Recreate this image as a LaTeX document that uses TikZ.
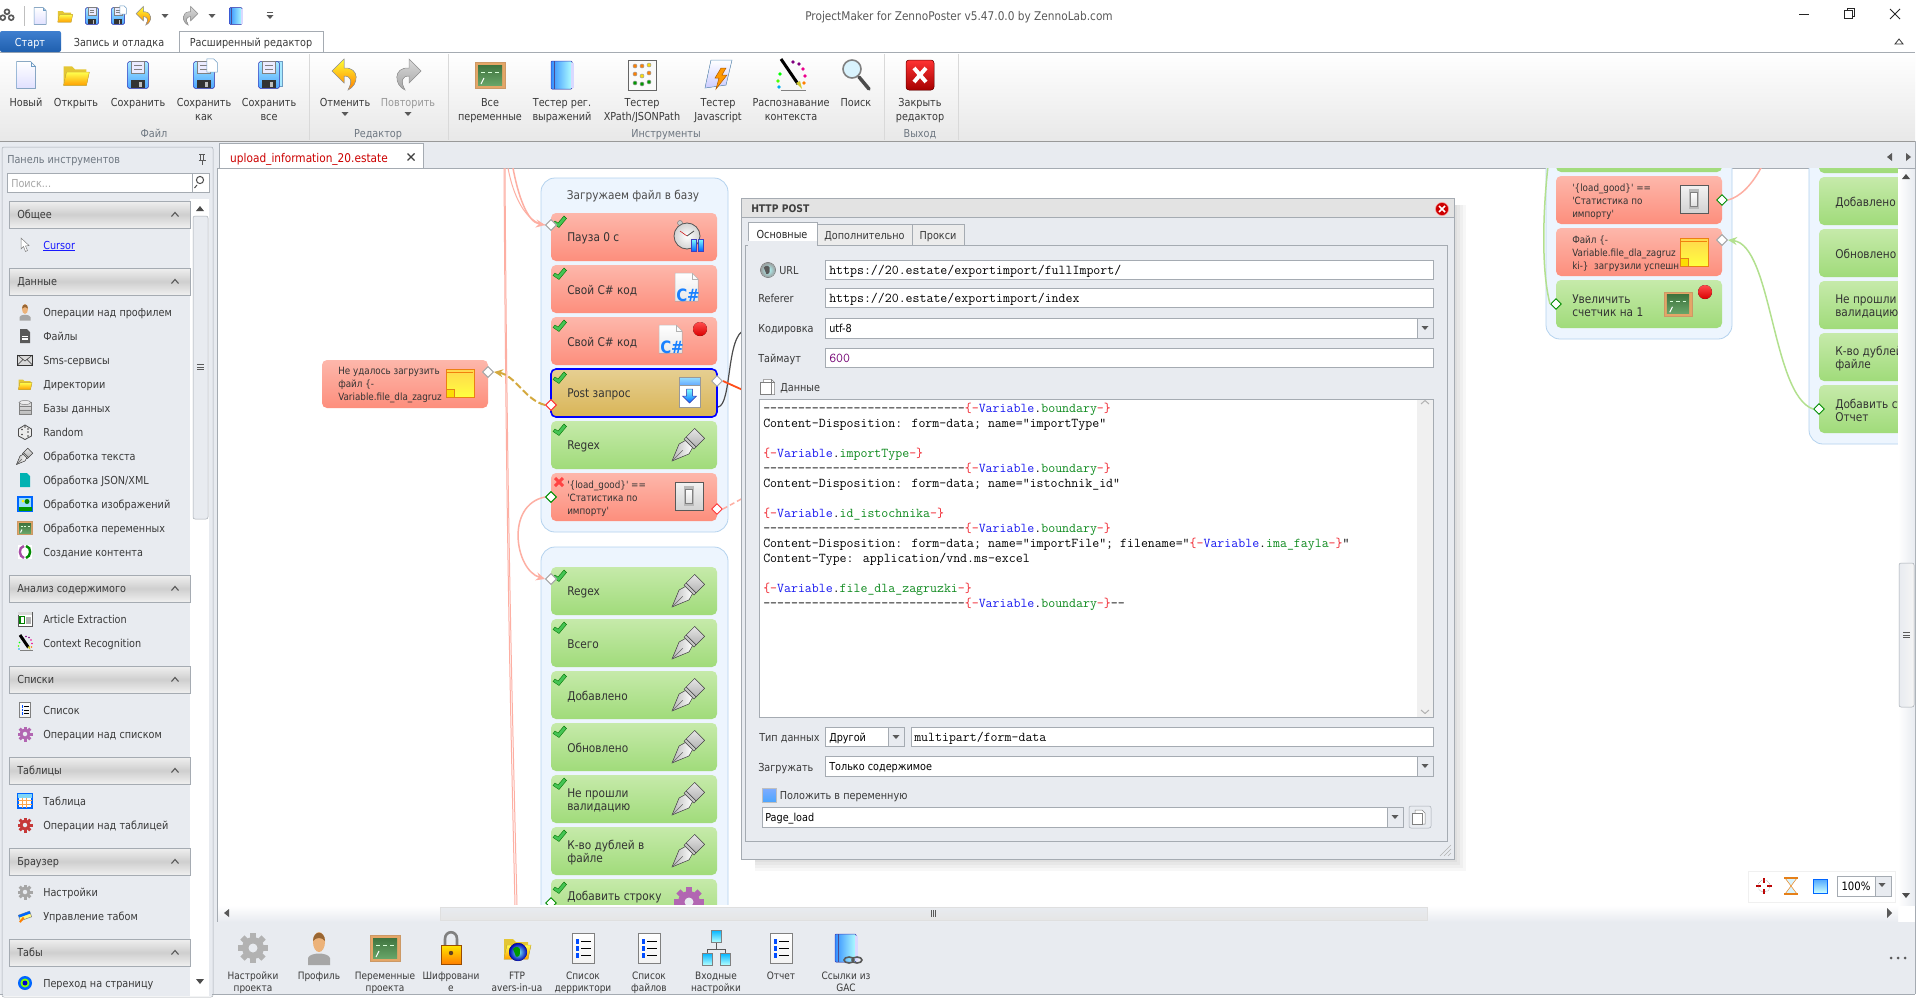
\documentclass[tikz,border=0pt]{standalone}
\usepackage{fontspec}
\usetikzlibrary{arrows.meta,shapes.geometric}
\newfontfamily\ui[FakeStretch=0.88]{DejaVu Sans}
\newfontfamily\uib[FakeStretch=0.88]{DejaVu Sans Bold}
\definecolor{txt}{HTML}{3A3A3A}
\definecolor{glab}{HTML}{6E7781}
\definecolor{panel}{HTML}{E8EBF0}
\definecolor{edge}{HTML}{A5ABB2}
\definecolor{pinkl}{HTML}{FDAFA3}
\definecolor{greenl}{HTML}{B2E08E}
\definecolor{goldl}{HTML}{D4A93E}
\definecolor{vr}{HTML}{F0202A}
\definecolor{vb}{HTML}{1A1AF0}
\definecolor{vg}{HTML}{0E8A1E}
\definecolor{pb}{HTML}{6E9CC4}
\definecolor{startt}{HTML}{3F7FCF}
\definecolor{startb}{HTML}{1F5FAE}
\newcounter{nid}
\newcommand{\lab}[4][]{\stepcounter{nid}\node[lbl,#1] (n\arabic{nid}) at (#2,#3+4) {#4};}
\newcommand{\clab}[4][]{\stepcounter{nid}\node[lbl,anchor=base,#1] (n\arabic{nid}) at (#2,#3+4) {#4};}
\newcommand{\code}[2]{\stepcounter{nid}\node[lbl,font=\ttfamily\fontsize{13.5}{15}\selectfont,text=black] (n\arabic{nid}) at (763,#1+4) {#2};}
\newcommand{\dashes}{-{}-{}-{}-{}-{}-{}-{}-{}-{}-{}-{}-{}-{}-{}-{}-{}-{}-{}-{}-{}-{}-{}-{}-{}-{}-{}-{}-{}-{}}
\newcommand{\Vv}[1]{{\color{vr}\{-}{\color{vb}Variable}.{\color{vg}#1}{\color{vr}-\}}}
\newcommand{\sm}{\fontsize{10}{11.6}\selectfont}
\newcommand{\ico}[4][1]{\begin{scope}[shift={(#2,#3)},scale=#1]#4\end{scope}}
\newcommand{\action}[5]{\node[actbox,#4] (#1) at (#2+83,#3+24) {};\node[acttxt] (#1t) at (#2+16,#3+25.3) {#5};}
\newcommand{\okm}[2]{\fill[fill=HTMLok,draw=green!45!black,line width=.4] (#1-5,#2-1) -- (#1-2,#2+1) -- (#1+4,#2-6) -- (#1+6.5,#2-3.5) -- (#1-1,#2+5.5) -- (#1-7,#2+1.5) -- cycle;}
\definecolor{HTMLok}{HTML}{45C454}
\newcommand{\badm}[2]{\draw[line width=3,color=red!65!pink] (#1-4,#2-4) -- (#1+4,#2+4) (#1+4,#2-4) -- (#1-4,#2+4);}
% icons
\newcommand{\icpage}{\fill[top color=white,bottom color=blue!12,draw=pb] (-10,-14) -- (5,-14) -- (10,-9) -- (10,14) -- (-10,14) -- cycle;\draw[pb] (5,-14) -- (5,-9) -- (10,-9);}
\newcommand{\icfolder}{\fill[color=yellow!55!brown] (-13,-9) -- (-4,-9) -- (-1,-6) -- (11,-6) -- (11,11) -- (-13,11) -- cycle;\fill[top color=yellow!70!white,bottom color=orange!75!yellow,draw=yellow!45!brown] (-10,-3) -- (14,-3) -- (11,11) -- (-13,11) -- cycle;}
\newcommand{\icsave}{\fill[rounded corners=1.5,top color=blue!25!cyan!35,bottom color=blue!50!cyan!70,draw=blue!50!gray] (-11,-14) rectangle (11,14);\fill[color=white!92!blue,draw=gray] (-7,-14) rectangle (7,-2);\draw[gray] (-4,-10) -- (4,-10) (-4,-6) -- (4,-6);\fill[color=black!80] (-7,5) rectangle (7,14);\fill[color=gray!50] (1,7) rectangle (4,13);}
\newcommand{\icsaveas}{\icsave\fill[color=white,draw=pb] (3,-17) -- (10,-17) -- (14,-13) -- (14,-3) -- (3,-3) -- cycle;}
\newcommand{\icsaveall}{\fill[color=blue!25!cyan!35,draw=pb] (-7,-15) rectangle (14,12);\icsave}
\newcommand{\icundo}[2]{\fill[top color=#1,bottom color=#2,draw=black!40] (-1,-16) -- (-13,-4) -- (-1,8) -- (-1,1) .. controls (6,1) and (8,6) .. (3,15) .. controls (14,10) and (15,-8) .. (-1,-7) -- cycle;}
\newcommand{\icbook}{\fill[left color=blue!55!cyan!80,right color=cyan!30,rounded corners=1,draw=blue!50!gray] (-11,-14) rectangle (10,14);\fill[color=white!85!blue] (9,-12) rectangle (12,13);\draw[blue!40!black!70] (-8,-14) -- (-8,14);}
\newcommand{\icboard}{\fill[color=brown!60!orange!70,draw=brown!80] (-15,-13) rectangle (15,13);\fill[top color=green!30!gray!70!black,bottom color=green!25!gray!95] (-12,-10) rectangle (12,10);\draw[white!85!green,line width=.8] (-9,-3) -- (-5,-3) (-2,-3) -- (2,-3) (5,-3) -- (9,-3);\draw[white,line width=1] (-9,9) -- (-6,3);}
\newcommand{\icxpath}{\fill[color=white!96!gray,draw=gray!80!black] (-14,-15) rectangle (14,15);\foreach \a/\b/\c in {-7/-9/orange,0/-9/orange,7/-10/yellow!80!orange,-7/-1/orange,7/-2/orange,0/1/yellow!80!orange,-7/8/green!60!black,0/9/green!60!black,7/7/green!60!black}{\fill[color=\c,draw=black!40] (\a,\b) circle (2);}}
\newcommand{\icjs}{\fill[top color=white,bottom color=blue!20,draw=pb] (-7,-15) -- (14,-15) -- (8,10) -- (-13,13) -- cycle;\fill[color=orange!80!yellow,draw=orange!70!black] (3,-7) -- (-3,3) -- (1,3) -- (-2,14) -- (9,0) -- (4,0) -- (8,-7) -- cycle;}
\newcommand{\iccontext}{\foreach \a/\b/\c in {2/-13/violet,8/-11/violet,12/-6/magenta,14/1/magenta,-11/-1/green,-13/6/green!70!yellow,-12/12/cyan,13/8/orange}{\fill[color=\c] (\a,\b) circle (1.9);}\draw[black,line width=3] (-10,-16) -- (7,9);\fill[color=yellow!80!black] (5,8) -- (9,6) -- (11,14) -- cycle;\draw[gray,line width=.8] (-10,15) -- (15,15);}
\newcommand{\icsearch}{\draw[black!70,line width=3.5,line cap=round] (3,3) -- (13,15);\fill[color=cyan!15,draw=gray,line width=1.6] (-4,-5) circle (9);}
\newcommand{\icclose}{\fill[rounded corners=3,top color=red!80!white,bottom color=red!65!black,draw=red!45!black] (-14,-15) rectangle (14,15);\draw[white,line width=4] (-6,-7) -- (6,7) (6,-7) -- (-6,7);}
\newcommand{\icgear}[1]{\foreach \a in {0,45,...,315}{\fill[color=#1,rotate=\a] (-3,-15) rectangle (3,-9);}\fill[color=#1] (0,0) circle (11);\fill[color=panel] (0,0) circle (4.5);}
\newcommand{\icperson}{\fill[color=gray!70] (-11,17) -- (-11,10) .. controls (-9,4) and (9,4) .. (11,10) -- (11,17) -- cycle;\fill[color=orange!50!brown!60!white] (0,-6) ellipse (6 and 10);\fill[color=brown!80!black] (-6,-7) .. controls (-6,-18) and (6,-18) .. (6,-7) .. controls (3,-11) and (-3,-11) .. (-6,-7) -- cycle;}
\newcommand{\iclock}{\draw[gray,line width=2.6] (-6,-3) -- (-6,-9) .. controls (-6,-18) and (6,-18) .. (6,-9) -- (6,-3);\fill[top color=yellow!80!orange,bottom color=orange,draw=orange!60!black] (-10,-3) rectangle (10,16);\fill[color=brown!50!black] (0,5) circle (2.2);}
\newcommand{\icglobe}{\fill[inner color=cyan!30,outer color=gray!80] (0,0) circle (9);\fill[color=gray!70!black] (-5,-3) .. controls (-2,-7) and (3,-5) .. (2,0) .. controls (3,5) and (-3,7) .. (-3,2) -- cycle;}
\newcommand{\icglobec}{\fill[inner color=cyan!50,outer color=blue!70!black] (0,0) circle (9);\fill[color=green!60!black] (-5,-3) .. controls (-2,-7) and (3,-5) .. (2,0) .. controls (3,5) and (-3,7) .. (-3,2) -- cycle;}
\newcommand{\iclist}{\fill[top color=white,bottom color=gray!10,draw=gray] (-11,-15) rectangle (11,15);\foreach \v in {-7,0,7}{\draw[black,line width=1] (-2,\v) -- (8,\v);\fill[color=blue!70!cyan] (-7,\v-2.5) rectangle (-4,\v+2.5);}}
\newcommand{\icnet}{\draw[gray!70!black] (0,-6) -- (0,1) (-9,5) -- (-9,1) -- (9,1) -- (9,5);\foreach \a/\b in {0/-12,-9/11,9/11}{\fill[top color=cyan!70!blue,bottom color=cyan!30,draw=gray] (\a-5,\b-6) rectangle (\a+5,\b+6);}}
\newcommand{\icgac}{\icbook\draw[gray!70!black,line width=1.6] (3,12) ellipse (5 and 3) (11,12) ellipse (5 and 3);}
\newcommand{\icnib}{\begin{scope}[rotate=45]\fill[left color=gray!55,right color=white,draw=gray!60!black] (-24,0) -- (-7,-7) -- (0,-5) -- (0,5) -- (-7,7) -- cycle;\draw[black!60] (-24,0) -- (-9,0);\fill[color=gray!45,draw=gray!60!black] (0,-7) rectangle (3,7);\fill[top color=gray!20,bottom color=gray!60,draw=gray!60!black] (3,-7) rectangle (15,7);\end{scope}}
\newcommand{\icclock}{\fill[color=gray!40,draw=gray] (-9,-14) circle (2.5);\fill[color=gray!30,draw=gray] (-2,-14) rectangle (1,-11);\fill[inner color=white,outer color=gray!35,draw=gray!70!black,line width=.8] (-2,-1) circle (13);\draw[red!80!black] (-2,-1) -- (-9,-6);\draw[black!70,line width=.8] (-2,-1) -- (5,-6);\fill[top color=cyan!50,bottom color=blue!60!cyan,draw=blue!50!gray] (2,2) rectangle (7,14) (9,2) rectangle (14,14);}
\newcommand{\icsharp}{\fill[top color=white,bottom color=gray!18,draw=gray!50] (-13,-16) -- (4,-16) -- (10,-10) -- (10,12) -- (-13,12) -- cycle;\draw[gray!60] (4,-16) -- (4,-10) -- (10,-10);\stepcounter{nid}\node[lbl,anchor=center,font=\uib\fontsize{17}{17}\selectfont,text=blue!55!cyan!90] (n\arabic{nid}) at (0,6) {C\#};}
\newcommand{\icpost}{\fill[color=white,draw=gray!80] (-10.5,-15) rectangle (10.5,15);\fill[top color=blue!30!cyan!40,bottom color=blue!55!cyan!60,draw=gray!80] (-10.5,-15) rectangle (10.5,-7);\fill[top color=cyan!50,bottom color=blue!60!cyan,draw=blue!50!gray] (-3,-3) -- (3,-3) -- (3,4) -- (7,4) -- (0,11) -- (-7,4) -- (-3,4) -- cycle;}
\newcommand{\icnote}{\fill[top color=yellow!55!orange!70,bottom color=yellow!75!white,draw=orange!70!brown] (-14,-14) rectangle (14,14);\draw[orange!80!brown,line width=.8] (-13,-11) -- (13,-11);\fill[color=yellow!80!orange,draw=orange!60!brown] (-14,6) -- (-6,6) -- (-6,14) -- (-14,14) -- cycle;\draw[orange!60!brown] (-6,14) -- (-2,14);}
\newcommand{\icswitch}{\fill[top color=gray!10,bottom color=gray!35,draw=gray!70!black,line width=.8] (-14,-14) rectangle (14,14);\fill[color=gray!55] (-5,-10) rectangle (5,10);\fill[top color=white,bottom color=gray!25,draw=gray] (-3.5,-7) rectangle (3.5,7);}
\newcommand{\icdot}{\fill[top color=red!70!white,bottom color=red!85!black] (0,0) circle (7);}
\newcommand{\icmail}{\fill[color=gray!30,draw=black!80,line width=.8] (-15,-10) rectangle (15,10);\draw[black!80] (-15,-10) -- (0,2) -- (15,-10) (-15,10) -- (-4,-1) (15,10) -- (4,-1);}
\newcommand{\icdoc}[1]{\fill[color=#1] (-10,-14) -- (4,-14) -- (10,-8) -- (10,14) -- (-10,14) -- cycle;}
\newcommand{\icfile}{\icdoc{gray!70!black}\draw[white,line width=1.2] (-6,1) -- (6,1) (-6,6) -- (6,6);}
\newcommand{\icdb}{\fill[top color=gray!20,bottom color=gray!55,draw=gray] (-12,-11) rectangle (12,13);\draw[gray] (-12,-3) -- (12,-3) (-12,5) -- (12,5);\fill[color=gray!15,draw=gray] (0,-11) ellipse (12 and 4);}
\newcommand{\icdice}{\fill[color=gray!15,draw=black!70,line width=.8] (0,-14) -- (13,-6) -- (13,8) -- (0,15) -- (-13,8) -- (-13,-6) -- cycle;\foreach \a/\b in {-6/-5,-6/5,6/0,6/8,6/-6,0/-10}{\fill[color=black!75] (\a,\b) circle (1.8);}}
\newcommand{\icimage}{\fill[color=cyan!40,draw=blue!60!cyan,line width=1.2] (-14,-14) rectangle (14,14);\fill[color=yellow] (-4,-6) circle (3);\fill[color=green!60!black] (-13,13) rectangle (13,5);\fill[color=green!50!black] (4,-5) circle (5);}
\newcommand{\iccontent}{\fill[color=white] (-14,-14) rectangle (14,14);\draw[violet!70,line width=2.4] (-2,-12) .. controls (-14,-10) and (-12,10) .. (-2,12);\draw[green!55!black,line width=2.4] (2,-12) .. controls (14,-10) and (12,10) .. (2,12);}
\newcommand{\icarticle}{\fill[color=white,draw=gray!70!black] (-14,-14) rectangle (14,14);\fill[color=gray!30] (-14,-14) rectangle (14,-8);\draw[green!50!black,line width=1.4] (-10,-5) rectangle (-1,9);\fill[color=gray!60] (2,-5) rectangle (11,9);}
\newcommand{\ictable}{\fill[color=white,draw=blue!60!cyan,line width=1.2] (-14,-14) rectangle (14,14);\fill[color=cyan!50] (-14,-14) rectangle (14,-7);\draw[orange!70] (-6,-7) -- (-6,14) (3,-7) -- (3,14) (-14,-1) -- (14,-1) (-14,6) -- (14,6);}
\newcommand{\iccursor}{\fill[color=white,draw=gray] (-8,-14) -- (-8,8) -- (-3,3) -- (1,13) -- (5,11) -- (1,2) -- (8,1) -- cycle;}
\newcommand{\ictab}{\fill[color=yellow!50,draw=gray,rotate=20] (-12,-6) rectangle (12,6);\fill[color=blue!60!cyan,rotate=20] (-12,-6) rectangle (12,-1);\fill[color=orange,rotate=-40] (-2,4) rectangle (2,16);}
\newcommand{\icgoto}{\fill[color=blue!60!cyan] (0,0) circle (14);\fill[color=green!50!yellow] (0,0) circle (9);\fill[color=blue!80!black] (0,0) circle (5);}
\newcommand{\ichdr}[3]{\node[hdrbox] (#1) at (99.5,#2) {};\stepcounter{nid}\node[lbl,font=\ui\fontsize{11}{13}\selectfont] (n\arabic{nid}) at (17,#2+4) {#3};\draw[gray!70!black,line width=1.1] (171.5,#2+2) -- (175,#2-2) -- (178.5,#2+2);}
\newcommand{\sideitem}[3]{\ico[0.5]{25}{#1}{#2}\lab{43}{#1}{#3}}
\newcommand{\ribbon}[3]{\clab{#1}{102}{#2}\clab{#1}{116}{#3}}
\newcommand{\btm}[3]{\clab[font=\ui\fontsize{10.2}{12}\selectfont]{#1}{975}{#2}\clab[font=\ui\fontsize{10.2}{12}\selectfont]{#1}{987}{#3}}
\newcommand{\ddarrow}[2]{\fill[gray!70!black] (#1-3.5,#2-2) -- (#1+3.5,#2-2) -- (#1,#2+2) -- cycle;}
\definecolor{pinkt}{HTML}{FDB7AB}
\definecolor{pinkb}{HTML}{FD8E7C}
\definecolor{greent}{HTML}{C6EAAA}
\definecolor{greenb}{HTML}{A0DB7A}
\definecolor{goldt}{HTML}{E6CF92}
\definecolor{goldb}{HTML}{D9B557}
\definecolor{grpf}{HTML}{EDF5FE}
\definecolor{grpd}{HTML}{B4D2EE}
\tikzset{
 lbl/.style={anchor=base west,inner sep=0pt,text=txt,font=\ui\fontsize{11}{13}\selectfont},
 actbox/.style={minimum width=166pt,minimum height=48pt,rounded corners=5pt,inner sep=0pt},
 redg/.style={top color=pinkt,bottom color=pinkb},
 greeng/.style={top color=greent,bottom color=greenb},
 goldg/.style={top color=goldt,bottom color=goldb},
 acttxt/.style={anchor=west,align=left,inner sep=0pt,text=black!80,font=\ui\fontsize{12}{13}\selectfont},
 grpbox/.style={rounded corners=14pt,fill=grpf,draw=grpd,line width=.8pt,inner sep=0pt},
 port/.style={shape=diamond,minimum size=11pt,inner sep=0pt,fill=white,draw=#1,line width=.9pt},
 hdrbox/.style={minimum width=181pt,minimum height=27pt,inner sep=0pt,draw=edge,line width=.8pt,top color=gray!12,bottom color=gray!12,middle color=gray!38},
 field/.style={fill=white,draw=edge,line width=.8pt},
 tabbtn/.style={draw=edge,line width=.8pt},
 conn/.style={line width=1.5pt,color=pinkl},
 arr/.style={-{Stealth[length=9pt,width=8pt]}}
}
\begin{document}
\begin{tikzpicture}[x=1pt,y=-1pt,line width=.5pt]
\useasboundingbox (0,0) rectangle (1920,999);
\fill[white] (0,0) rectangle (1920,999);
% window body
\fill[panel] (0,141) rectangle (1915,994);
\draw[edge,line width=1] (0,994) -- (1915,994) (1915,141) -- (1915,994);
% ribbon
\fill[top color=white,bottom color=gray!18] (0,52) rectangle (1915,141);
\draw[edge] (0,52) -- (179,52) (323,52) -- (1915,52);
\draw[gray!80,line width=1] (0,141) -- (1915,141);
\foreach \xs in {309,448,884,958}{\draw[gray!30] (\xs,54) -- (\xs,140);}
% quick access bar
\draw[gray!50] (24,6) -- (24,26);
\ico[0.42]{7}{16}{\fill[color=gray!70!black] (-10,4) circle (8) (10,4) circle (8) (0,-10) circle (8);\fill[white] (-10,4) circle (4) (10,4) circle (4) (0,-10) circle (4);}
\ico[0.6]{40}{16}{\icpage}
\ico[0.55]{65}{16}{\icfolder}
\ico[0.6]{92}{16}{\icsave}
\ico[0.6]{118}{16}{\icsaveas}
\ico[0.6]{144}{16}{\icundo{yellow!80!white}{orange}}
\ddarrow{165}{16}
\ico[0.6]{190}{16}{\begin{scope}[xscale=-1]\icundo{gray!30}{gray!70}\end{scope}}
\ddarrow{212}{16}
\ico[0.6]{236}{16}{\icbook}
\ddarrow{270}{17}
\draw[gray!70!black] (267,12) -- (273,12);
\clab[font=\ui\fontsize{12}{13}\selectfont,text=black!65]{959}{16}{ProjectMaker for ZennoPoster v5.47.0.0 by ZennoLab.com}
\draw[black!85,line width=1] (1799,14) -- (1809,14);
\draw[black!85,line width=1] (1844.5,10) rectangle (1852.5,18) (1847,10) -- (1847,8) -- (1854,8) -- (1854,16) -- (1852.5,16);
\draw[black!85,line width=1] (1890,9) -- (1900,19) (1900,9) -- (1890,19);
\draw[black!80,line width=.8] (1895,44) -- (1899,39) -- (1903,44) -- cycle;
% application tabs
\node[minimum width=61pt,minimum height=21pt,inner sep=0pt,top color=startt,bottom color=startb,rounded corners=2pt] (tabStart) at (30.5,41.5) {};
\clab[text=white]{30}{42}{Старт}
\clab{119}{42}{Запись и отладка}
\node[minimum width=144pt,minimum height=21pt,inner sep=0pt,fill=white,draw=edge] (tabExt) at (251,41.5) {};
\clab{251}{42}{Расширенный редактор}
% ribbon icons
\ico[0.95]{26}{75}{\icpage}
\ico[0.95]{76}{75}{\icfolder}
\ico[0.95]{138}{75}{\icsave}
\ico[0.95]{204}{75}{\icsaveas}
\ico[0.95]{269}{75}{\icsaveall}
\ico[1]{345}{75}{\icundo{yellow!80!white}{orange}}
\ico[1]{408}{75}{\begin{scope}[xscale=-1]\icundo{gray!30}{gray!70}\end{scope}}
\ico[1]{490}{75}{\icboard}
\ico[1]{562}{75}{\icbook}
\ico[1]{642}{75}{\icxpath}
\ico[1]{718}{75}{\icjs}
\ico[1]{791}{75}{\iccontext}
\ico[1]{856}{74}{\icsearch}
\ico[1]{920}{75}{\icclose}
\clab{26}{102}{Новый}\clab{76}{102}{Открыть}\clab{138}{102}{Сохранить}
\ribbon{204}{Сохранить}{как}\ribbon{269}{Сохранить}{все}
\clab{345}{102}{Отменить}\ddarrow{345}{114}
\clab[text=gray!80]{408}{102}{Повторить}\ddarrow{408}{114}
\ribbon{490}{Все}{переменные}\ribbon{562}{Тестер рег.}{выражений}\ribbon{642}{Тестер}{XPath/JSONPath}
\ribbon{718}{Тестер}{Javascript}\ribbon{791}{Распознавание}{контекста}\clab{856}{102}{Поиск}\ribbon{920}{Закрыть}{редактор}
\clab[text=glab]{154}{133}{Файл}\clab[text=glab]{378}{133}{Редактор}\clab[text=glab]{666}{133}{Инструменты}\clab[text=glab]{920}{133}{Выход}
% document tab
\node[minimum width=204pt,minimum height=25pt,inner sep=0pt,fill=white,draw=edge] (docTab) at (321,155.5) {};
\clab[text=red!80!black,font=\ui\fontsize{12}{13}\selectfont]{309}{158}{upload\_information\_20.estate}
\draw[black!75,line width=1.4] (407.5,153.5) -- (414.5,160.5) (414.5,153.5) -- (407.5,160.5);
\fill[gray!70!black] (1892,153) -- (1892,161) -- (1887,157) -- cycle (1906,153) -- (1906,161) -- (1911,157) -- cycle;
% left panel
\draw[edge,rounded corners=2] (2,147) rectangle (213,997);
\fill[panel] (3,148) rectangle (212,996);
\lab[text=glab]{7}{159}{Панель инструментов}
\draw[black!65,line width=.9] (199,154) -- (205,154) (200.5,154) rectangle (203.5,160) (202,160) -- (202,165) (198.5,160) -- (205.5,160);
\node[minimum width=202pt,minimum height=19pt,inner sep=0pt,field] (searchBox) at (108,182.5) {};
\lab[text=gray!70]{11}{183}{Поиск...}
\draw[edge] (192,173) -- (192,192);
\draw[gray!60!black,line width=1] (200,180) circle (3.6) (197,185) -- (194.5,188);
\fill[white] (190,199) rectangle (209,996);
\fill[gray!60!black] (196,211) -- (204,211) -- (200,206) -- cycle (196,979) -- (204,979) -- (200,984) -- cycle;
\node[minimum width=15pt,minimum height=303pt,inner sep=0pt,fill=panel,draw=edge,rounded corners=2pt] (sideThumb) at (200.5,367.5) {};
\draw[gray!70!black] (197,364.5) -- (204,364.5) (197,367) -- (204,367) (197,369.5) -- (204,369.5);
\fill[panel] (3,199) rectangle (190,996);
\ichdr{hA}{214.5}{Общее}
\ico[0.5]{25}{245}{\iccursor}
\lab[text=blue!90!white]{43}{245}{\underline{Cursor}}
\ichdr{hB}{281.5}{Данные}
\sideitem{312}{\icperson}{Операции над профилем}
\sideitem{336}{\icfile}{Файлы}
\sideitem{360}{\icmail}{Sms-сервисы}
\sideitem{384}{\icfolder}{Директории}
\sideitem{408}{\icdb}{Базы данных}
\sideitem{432}{\icdice}{Random}
\sideitem{456}{\icnib}{Обработка текста}
\sideitem{480}{\icdoc{teal!60!cyan}}{Обработка JSON/XML}
\sideitem{504}{\icimage}{Обработка изображений}
\sideitem{528}{\icboard}{Обработка переменных}
\sideitem{552}{\iccontent}{Создание контента}
\ichdr{hC}{588.5}{Анализ содержимого}
\sideitem{619}{\icarticle}{Article Extraction}
\sideitem{643}{\iccontext}{Context Recognition}
\ichdr{hD}{679.5}{Списки}
\sideitem{710}{\iclist}{Список}
\sideitem{734}{\icgear{violet!60}}{Операции над списком}
\ichdr{hE}{770.5}{Таблицы}
\sideitem{801}{\ictable}{Таблица}
\sideitem{825}{\icgear{red!55!gray}}{Операции над таблицей}
\ichdr{hF}{861.5}{Браузер}
\sideitem{892}{\icgear{gray!70}}{Настройки}
\sideitem{916}{\ictab}{Управление табом}
\ichdr{hG}{952.5}{Табы}
\sideitem{983}{\icgoto}{Переход на страницу}
% canvas
\fill[white] (218,168) rectangle (1915,922);
\draw[edge] (218,168) -- (1915,168) (217.5,168) -- (217.5,922);
\begin{scope}
\clip (218,168.5) rectangle (1898,905);
\node[grpbox,minimum width=187pt,minimum height=354pt] (g1) at (634.5,355) {};
\node[grpbox,minimum width=187pt,minimum height=420pt] (g2) at (634.5,757) {};
\node[grpbox,minimum width=186pt,minimum height=239pt] (g3) at (1639,219.5) {};
\node[grpbox,minimum width=190pt,minimum height=344pt] (g4) at (1904,272) {};
\action{a1}{551}{213}{redg}{Пауза 0 с}
\action{a2}{551}{265}{redg}{Свой C\# код}
\action{a3}{551}{317}{redg}{Свой C\# код}
\action{a4}{551}{369}{goldg,draw=blue,line width=1.6pt}{Post запрос}
\action{a5}{551}{421}{greeng}{Regex}
\action{a6}{551}{473}{redg}{\sm'\{load\_good\}' ==\\\sm'Статистика по\\\sm импорту'}
\action{note}{322}{360}{redg}{\sm Не удалось загрузить\\\sm файл \{-\\\sm Variable.file\_dla\_zagruz}
\action{b1}{551}{567}{greeng}{Regex}
\action{b2}{551}{619}{greeng}{Всего}
\action{b3}{551}{671}{greeng}{Добавлено}
\action{b4}{551}{723}{greeng}{Обновлено}
\action{b5}{551}{775}{greeng}{Не прошли\\валидацию}
\action{b6}{551}{827}{greeng}{К-во дублей в\\файле}
\node[actbox,greeng] (b7) at (634,903) {};
\node[acttxt] (b7t) at (567,897) {Добавить строку};
\node[actbox,greeng] (c0) at (1639,148) {};
\action{c1}{1556}{176}{redg}{\sm'\{load\_good\}' ==\\\sm'Статистика по\\\sm импорту'}
\action{c2}{1556}{228}{redg}{\sm Файл \{-\\\sm Variable.file\_dla\_zagruz\\\sm ki-\}\ \ загрузили успешн}
\action{c3}{1556}{280}{greeng}{Увеличить\\счетчик на 1}
\node[actbox,greeng] (e0) at (1902,149) {};
\action{e1}{1819}{177}{greeng}{Добавлено}
\action{e2}{1819}{229}{greeng}{Обновлено}
\action{e3}{1819}{281}{greeng}{Не прошли\\валидацию}
\action{e4}{1819}{333}{greeng}{К-во дублей\\файле}
\action{e5}{1819}{385}{greeng}{Добавить ст\\Отчет}
\stepcounter{nid}
\node[lbl,anchor=base,text=black!70,font=\ui\fontsize{12}{13}\selectfont] (n\arabic{nid}) at (633,199) {Загружаем файл в базу};
% icons on actions
\ico{689}{237}{\icclock}
\ico{688}{289}{\icsharp}
\ico{672}{341}{\icsharp}
\ico{700}{329}{\icdot}
\ico{689.5}{392}{\icpost}
\ico{689}{444}{\icnib}
\ico{689}{496}{\icswitch}
\ico{460}{383}{\icnote}
\foreach \yy in {590,642,694,746,798,850}{\ico{689}{\yy}{\icnib}}
\ico{689}{902}{\icgear{violet!60}}
\ico{1694}{199}{\icswitch}
\ico{1694}{252}{\icnote}
\ico[.92]{1678}{304}{\icboard}
\ico{1705}{292}{\icdot}
% check marks
\foreach \yy in {222,274,326,378,430,576,628,680,732,784,836,888}{\okm{560}{\yy}}
\badm{559}{482}
% ports
\node[port=gray!70] (pPause) at (551,225) {};
\node[port=gray!70] (pPost) at (717,381) {};
\node[port=red!80] (pErr) at (551,405) {};
\node[port=gray!70] (pNote) at (488,372) {};
\node[port=green!55!black] (pIf) at (551,497) {};
\node[port=red!80] (pIfE) at (717,509) {};
\node[port=gray!70] (pRgx) at (551,579) {};
\node[port=green!55!black] (pAdd) at (551,903) {};
\node[port=green!55!black] (pR1) at (1722,200) {};
\node[port=gray!70] (pR2) at (1722,240) {};
\node[port=green!55!black] (pR3) at (1556,304) {};
\node[port=green!55!black] (pR4) at (1819,409) {};
% free ends
\coordinate (top1) at (504,168);
\coordinate (top1b) at (505,168);
\coordinate (bot1) at (515,905);
\coordinate (bot1b) at (517,905);
\coordinate (top2) at (508,168);
\coordinate (top3) at (513,168);
\coordinate (postOut) at (718,407);
\coordinate (blackEnd) at (745,330);
\coordinate (redEnd) at (745,391);
\coordinate (dashEnd) at (745,497);
\coordinate (rTop) at (1762,166);
\coordinate (gTop) at (1548,166);
% connectors
\draw[conn,line width=1pt] (top1) .. controls (506,500) and (510,700) .. (bot1);
\draw[conn,line width=1pt] (top1b) .. controls (507,500) and (512,700) .. (bot1b);
\draw[conn,line width=1pt] (top2) .. controls (513,195) and (525,222) .. (pPause.west);
\draw[conn,arr] (top3) .. controls (518,195) and (527,222) .. (pPause.west);
\draw[conn,arr] (pIf.west) .. controls (505,505) and (515,570) .. (pRgx.west);
\draw[black!70,line width=1.2pt] (postOut) .. controls (732,405) and (726,335) .. (blackEnd);
\draw[line width=1.8pt,color=red!55!orange!90] (pPost.east) -- (redEnd);
\draw[conn,dash pattern=on 5pt off 3pt] (pIfE.east) -- (dashEnd);
\draw[goldl,line width=2pt,dash pattern=on 7pt off 3pt,arr] (pErr.west) .. controls (525,400) and (515,375) .. (pNote.east);
\draw[conn] (pR1.east) .. controls (1740,197) and (1752,185) .. (rTop);
\draw[greenl,line width=1.5pt] (gTop) .. controls (1543,210) and (1541,270) .. (pR3.west);
\draw[greenl,line width=1.5pt,arr] (pR4.west) .. controls (1772,395) and (1772,245) .. (pR2.east);
% redraw ports above connectors
\node[port=gray!70] (pPause2) at (551,225) {};
\node[port=gray!70] (pNote2) at (488,372) {};
\node[port=red!80] (pErr2) at (551,405) {};
\node[port=gray!70] (pRgx2) at (551,579) {};
\node[port=gray!70] (pR22) at (1722,240) {};
\node[port=green!55!black] (pIf2) at (551,497) {};
\end{scope}
% canvas tool bar
\draw[gray!12,fill=white] (1748,871) rectangle (1895,902);
\draw[red!75!black,line width=1.4] (1756,886) -- (1761,886) (1767,886) -- (1772,886) (1764,878) -- (1764,883) (1764,889) -- (1764,894);
\draw[gray,densely dotted] (1764,886) circle (6);
\fill[color=cyan!15,draw=orange!70!brown] (1785,878) -- (1797,878) -- (1791,886) -- (1797,894) -- (1785,894) -- (1791,886) -- cycle;
\draw[orange!60!brown,line width=1.5] (1784,878) -- (1798,878) (1784,894) -- (1798,894);
\fill[top color=cyan!50!blue!70,bottom color=cyan!20,draw=blue!60!cyan,line width=.9] (1813,879) rectangle (1827,893);
\node[minimum width=54pt,minimum height=20pt,inner sep=0pt,field] (zoomBox) at (1864,886) {};
\clab[font=\ui\fontsize{11.5}{13}\selectfont,text=black]{1856}{886}{100\%}
\fill[panel] (1875,876.5) rectangle (1890.5,895.5);
\draw[edge] (1875,876) -- (1875,896);
\ddarrow{1882}{885}
% vertical scroll bar of canvas
\fill[left color=white,right color=panel] (1898,169) rectangle (1915,905);
\fill[gray!60!black] (1902,179) -- (1910,179) -- (1906,174) -- cycle (1902,893) -- (1910,893) -- (1906,898) -- cycle;
\node[minimum width=15pt,minimum height=144pt,inner sep=0pt,left color=panel,right color=gray!8,draw=edge,rounded corners=2pt] (vThumb) at (1906.5,635) {};
\draw[gray!70!black] (1903,632.5) -- (1910,632.5) (1903,635) -- (1910,635) (1903,637.5) -- (1910,637.5);
% horizontal scroll bar of canvas
\fill[top color=white,bottom color=panel] (218,905.5) rectangle (1898,922);
\node[minimum width=987pt,minimum height=13pt,inner sep=0pt,top color=panel,bottom color=gray!20,draw=gray!25] (hThumb) at (933.5,913.5) {};
\draw[gray!70!black] (931,910) -- (931,917) (933,910) -- (933,917) (935,910) -- (935,917);
\fill[gray!70!black] (229,909) -- (229,917) -- (224,913) -- cycle (1887,908) -- (1887,918) -- (1892,913) -- cycle;
% bottom bar
\fill[panel] (218,922) rectangle (1915,994);
\ico{253}{948}{\icgear{gray!60}}
\ico{319}{948}{\icperson}
\ico{385}{948}{\icboard}
\ico{451}{948}{\iclock}
\ico{517}{948}{\icfolder\begin{scope}[shift={(1,4)}]\icglobec\end{scope}}
\ico{583}{948}{\iclist}
\ico{649}{948}{\iclist}
\ico{716}{948}{\icnet}
\ico{781}{948}{\iclist}
\ico{846}{948}{\icgac}
\btm{253}{Настройки}{проекта}\clab[font=\ui\fontsize{10.2}{12}\selectfont]{319}{975}{Профиль}\btm{385}{Переменные}{проекта}\btm{451}{Шифровани}{е}\btm{517}{FTP}{avers-in-ua}\btm{583}{Список}{дерриктори}\btm{649}{Список}{файлов}\btm{716}{Входные}{настройки}\clab[font=\ui\fontsize{10.2}{12}\selectfont]{781}{975}{Отчет}\btm{846}{Ссылки из}{GAC}
\fill[gray!70!black] (1891,958) circle (1.5) (1898,958) circle (1.5) (1905,958) circle (1.5);
% dialog shadow
\foreach \ss in {3,6,9,12}{\fill[black,opacity=.03] (755,205) rectangle (1454+\ss,859+\ss);}
% dialog
\node[minimum width=713pt,minimum height=661pt,inner sep=0pt,fill=panel,draw=edge,line width=1pt] (dlg) at (1097.5,528.5) {};
\fill[gray!22] (741.5,198.5) rectangle (1453.5,217);
\draw[edge] (741,217) -- (1454,217);
\stepcounter{nid}
\node[lbl,font=\uib\fontsize{10.5}{13}\selectfont,text=black!75] (n\arabic{nid}) at (751,212) {HTTP POST};
\node[shape=circle,minimum size=13pt,inner sep=0pt,fill=red!80!black,draw=red!40] (dlgClose) at (1442,209) {};
\draw[white,line width=1.5] (1439,206) -- (1445,212) (1445,206) -- (1439,212);
\node[minimum width=702pt,minimum height=596pt,inner sep=0pt,fill=panel,draw=edge] (dlgBody) at (1096.5,543) {};
\node[tabbtn,minimum width=95pt,minimum height=21pt,inner sep=0pt,fill=gray!15] (tab2) at (864.5,234.5) {};
\node[tabbtn,minimum width=52pt,minimum height=21pt,inner sep=0pt,fill=gray!15] (tab3) at (938,234.5) {};
\node[tabbtn,minimum width=69pt,minimum height=23pt,inner sep=0pt,fill=white] (tab1) at (782.5,233.5) {};
\fill[panel] (748.4,241) rectangle (816.6,246);
\clab[text=black!85]{782}{234}{Основные}
\clab{864.5}{235}{Дополнительно}
\clab{938}{235}{Прокси}
\ico[.85]{768}{270}{\icglobe}
\lab{779}{270}{URL}
\lab{758}{298}{Referer}
\lab{758}{328}{Кодировка}
\lab{758}{358}{Таймаут}
\node[field,minimum width=608pt,minimum height=19pt,inner sep=0pt] (fUrl) at (1129,269.5) {};
\node[field,minimum width=608pt,minimum height=19pt,inner sep=0pt] (fRef) at (1129,297.5) {};
\node[field,minimum width=608pt,minimum height=20pt,inner sep=0pt] (fEnc) at (1129,328) {};
\node[field,minimum width=608pt,minimum height=19pt,inner sep=0pt] (fTime) at (1129,357.5) {};
\stepcounter{nid}\node[lbl,font=\ttfamily\fontsize{13.5}{15}\selectfont,text=black] (n\arabic{nid}) at (829,274) {https://20.estate/exportimport/fullImport/};
\stepcounter{nid}\node[lbl,font=\ttfamily\fontsize{13.5}{15}\selectfont,text=black] (n\arabic{nid}) at (829,302) {https://20.estate/exportimport/index};
\lab[text=black]{829}{328}{utf-8}
\stepcounter{nid}\node[lbl,font=\ttfamily\fontsize{13.5}{15}\selectfont,text=violet!90!black] (n\arabic{nid}) at (829,362) {600};
\fill[panel] (1417,318.5) rectangle (1432.5,337.5);\draw[edge] (1417,318) -- (1417,338);\ddarrow{1425}{328}
\ico[.55]{769}{387}{\fill[color=white,draw=gray] (-10,-14) -- (4,-14) -- (10,-8) -- (10,14) -- (-10,14) -- cycle;\draw[gray] (4,-14) -- (4,-8) -- (10,-8);\fill[color=white,draw=gray] (-16,-8) rectangle (4,14);}
\lab{780}{387}{Данные}
\node[field,minimum width=674pt,minimum height=318pt,inner sep=0pt] (fData) at (1096,558) {};
\fill[gray!12] (1417,399.5) rectangle (1432.5,716.5);
\draw[gray!60,line width=1] (1421,404) -- (1425,400.5) -- (1429,404) (1421,710) -- (1425,713.5) -- (1429,710);
\code{408}{\dashes\Vv{boundary}}
\code{423}{Content-Disposition: form-data; name="importType"}
\code{453}{\Vv{importType}}
\code{468}{\dashes\Vv{boundary}}
\code{483}{Content-Disposition: form-data; name="istochnik\_id"}
\code{513}{\Vv{id\_istochnika}}
\code{528}{\dashes\Vv{boundary}}
\code{543}{Content-Disposition: form-data; name="importFile"; filename="\Vv{ima\_fayla}"}
\code{558}{Content-Type: application/vnd.ms-excel}
\code{588}{\Vv{file\_dla\_zagruzki}}
\code{603}{\dashes\Vv{boundary}-{}-}
\lab{759}{737}{Тип данных}
\node[field,minimum width=79pt,minimum height=19pt,inner sep=0pt] (fType) at (864.5,736.5) {};
\lab[text=black]{829}{737}{Другой}
\fill[panel] (888,727.5) rectangle (903.5,745.5);\draw[edge] (888,727) -- (888,746);\ddarrow{896}{737}
\node[field,minimum width=522pt,minimum height=19pt,inner sep=0pt] (fMime) at (1172,736.5) {};
\stepcounter{nid}\node[lbl,font=\ttfamily\fontsize{13.5}{15}\selectfont,text=black] (n\arabic{nid}) at (914,741) {multipart/form-data};
\lab{758}{767}{Загружать}
\node[field,minimum width=608pt,minimum height=20pt,inner sep=0pt] (fLoad) at (1129,766) {};
\lab[text=black]{829}{766}{Только содержимое}
\fill[panel] (1417,756.5) rectangle (1432.5,775.5);\draw[edge] (1417,756) -- (1417,776);\ddarrow{1425}{766}
\node[minimum width=14pt,minimum height=14pt,inner sep=0pt,top color=cyan!35!blue!50,bottom color=blue!50!cyan!70,draw=gray!50] (chk) at (769,795) {};
\lab{779.5}{795}{Положить в переменную}
\node[field,minimum width=641pt,minimum height=20pt,inner sep=0pt] (fVar) at (1082.5,817) {};
\lab[text=black]{765}{817}{Page\_load}
\fill[panel] (1387,807.5) rectangle (1402.5,826.5);\draw[edge] (1387,807) -- (1387,827);\ddarrow{1395}{817}
\node[minimum width=22pt,minimum height=22pt,inner sep=0pt,fill=panel,draw=edge,rounded corners=2pt] (fBtn) at (1420,817) {};
\ico[.5]{1420}{817}{\fill[color=white,draw=gray] (-10,-14) -- (4,-14) -- (10,-8) -- (10,14) -- (-10,14) -- cycle;\fill[color=white,draw=gray] (-16,-8) rectangle (4,14);}
\draw[gray!60] (1440,856) -- (1451,845) (1444,856) -- (1451,849) (1448,856) -- (1451,853);
\end{tikzpicture}
\end{document}
